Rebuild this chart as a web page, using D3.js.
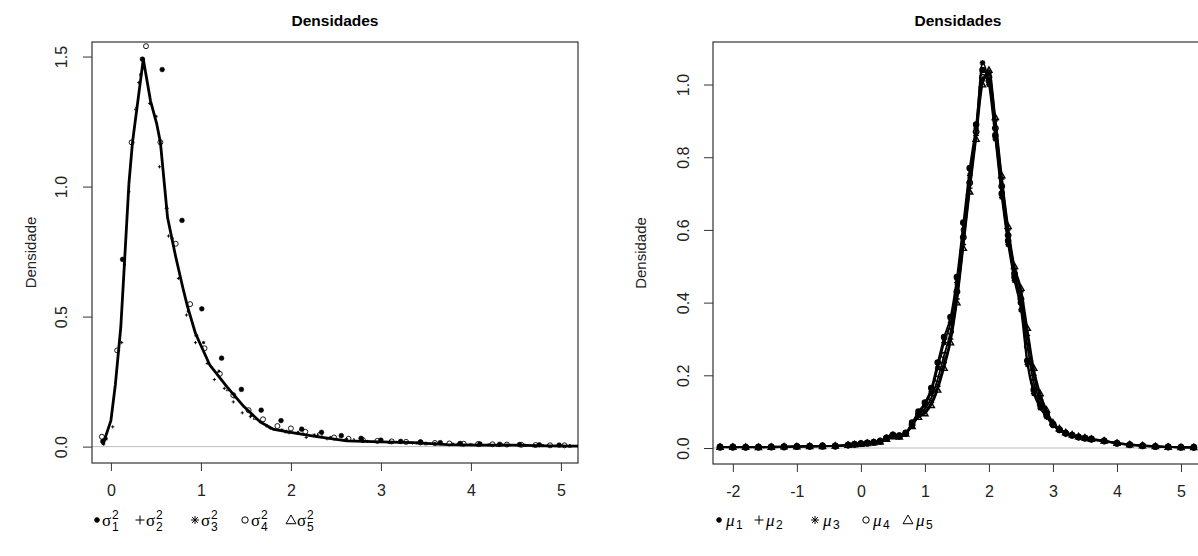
<!DOCTYPE html>
<html><head><meta charset="utf-8">
<script src="https://cdn.jsdelivr.net/npm/d3@7"></script>
<style>
body{margin:0;background:#fff;}
svg{display:block;font-family:Arial,"Liberation Sans",sans-serif;}
</style></head>
<body><svg id="c" width="1198" height="556"></svg>
<script>
// ---------- DATA: left panel (variances) ----------
const leftTitle = "Densidades";
const yLabel = "Densidade";
const leftXTicks = [0,1,2,3,4,5];
const leftYTicks = [0.0,0.5,1.0,1.5];
const leftLineX = [-0.09,0.0,0.05,0.11,0.14,0.2,0.24,0.36,0.44,0.51,0.55,0.63,0.72,0.80,0.85,0.94,1.1,1.29,1.48,1.66,1.81,2.03,2.25,2.62,3.0,3.36,3.74,4.1,4.48,4.85,5.19];
const leftLineY = [0.006,0.10,0.24,0.46,0.64,1.01,1.17,1.49,1.33,1.24,1.17,0.88,0.73,0.61,0.54,0.435,0.313,0.23,0.153,0.095,0.066,0.053,0.040,0.022,0.018,0.015,0.008,0.006,0.006,0.003,0.002];
const s1X = [-0.09,0.13,0.35,0.57,0.79,1.01,1.23,1.45,1.67,1.89,2.12,2.34,2.56,2.78,3.0,3.22,3.44,3.66,3.88,4.1,4.32,4.54,4.76,4.98];
const s1Y = [0.02,0.72,1.49,1.45,0.87,0.53,0.34,0.22,0.14,0.10,0.067,0.055,0.042,0.032,0.025,0.02,0.018,0.015,0.012,0.01,0.009,0.008,0.007,0.006];
const s2X = [-0.08,0.02,0.12,0.2,0.31,0.43,0.54,0.64,0.75,0.84,0.94,1.07,1.15,1.26,1.36,1.46,1.55,1.77,1.98,2.17,2.4,2.6,2.85,3.1,3.35,3.6,3.85,4.1,4.35,4.6,4.85,5.1];
const s2Y = [0.01,0.076,0.40,0.98,1.40,1.32,1.076,0.81,0.647,0.506,0.40,0.32,0.258,0.224,0.172,0.13,0.115,0.07,0.053,0.035,0.03,0.025,0.02,0.016,0.014,0.011,0.009,0.007,0.006,0.005,0.004,0.003];
const s3X = [-0.05,0.15,0.33,0.5,0.68,0.86,1.03,1.2,1.38,1.56,1.73,1.9,2.08,2.26,2.44,2.62,2.8,3.0,3.2,3.4,3.6,3.8,4.0,4.2,4.4,4.6,4.8,5.0];
const s3Y = [0.03,0.70,1.43,1.27,0.80,0.52,0.40,0.29,0.19,0.12,0.08,0.064,0.055,0.045,0.035,0.028,0.024,0.02,0.017,0.014,0.012,0.01,0.008,0.007,0.006,0.005,0.004,0.003];
const s4X = [-0.1,0.07,0.23,0.39,0.55,0.72,0.88,1.04,1.21,1.36,1.53,1.69,1.85,2.0,2.16,2.32,2.48,2.64,2.8,2.96,3.12,3.28,3.44,3.6,3.76,3.92,4.08,4.24,4.4,4.56,4.72,4.88,5.04];
const s4Y = [0.038,0.37,1.17,1.54,1.17,0.78,0.548,0.378,0.28,0.198,0.14,0.105,0.079,0.07,0.057,0.045,0.035,0.03,0.025,0.022,0.02,0.018,0.016,0.014,0.012,0.011,0.01,0.009,0.008,0.007,0.006,0.005,0.005];
const s5X = [0.28,0.62,0.95,1.3,1.6,1.95,2.3,2.7,3.1,3.5,3.9,4.3,4.7,5.1];
const s5Y = [1.3,0.92,0.43,0.22,0.11,0.058,0.042,0.025,0.017,0.012,0.008,0.006,0.004,0.003];

// ---------- DATA: right panel (means) ----------
const rightXTicks = [-2,-1,0,1,2,3,4,5];
const rightYTicks = [0.0,0.2,0.4,0.6,0.8,1.0];
const rightX = [-2.2,-2.0,-1.8,-1.6,-1.4,-1.2,-1.0,-0.8,-0.6,-0.4,-0.2,-0.1,0.0,0.1,0.2,0.3,0.4,0.5,0.6,0.7,0.8,0.9,1.0,1.1,1.2,1.3,1.4,1.5,1.6,1.7,1.8,1.9,2.0,2.1,2.2,2.3,2.4,2.5,2.6,2.7,2.8,2.9,3.0,3.1,3.2,3.3,3.4,3.5,3.6,3.8,4.0,4.2,4.4,4.6,4.8,5.0,5.2];
const mu1 = [0.003,0.003,0.002,0.002,0.003,0.004,0.004,0.005,0.004,0.006,0.008,0.010,0.012,0.014,0.015,0.018,0.028,0.036,0.034,0.042,0.070,0.100,0.125,0.165,0.235,0.305,0.360,0.470,0.620,0.770,0.890,1.040,1.010,0.860,0.700,0.570,0.470,0.400,0.240,0.160,0.120,0.090,0.065,0.050,0.040,0.035,0.030,0.028,0.025,0.020,0.013,0.009,0.006,0.004,0.003,0.002,0.002];
const mu2 = [0.002,0.003,0.003,0.002,0.002,0.003,0.004,0.004,0.005,0.005,0.007,0.009,0.011,0.013,0.016,0.020,0.030,0.038,0.030,0.038,0.062,0.088,0.100,0.125,0.170,0.235,0.300,0.410,0.560,0.715,0.860,1.010,1.030,0.900,0.740,0.600,0.490,0.430,0.310,0.200,0.140,0.100,0.068,0.052,0.042,0.036,0.031,0.027,0.024,0.019,0.014,0.010,0.007,0.005,0.003,0.002,0.002];
const mu3 = [0.003,0.002,0.003,0.003,0.002,0.003,0.005,0.004,0.005,0.006,0.009,0.011,0.013,0.015,0.017,0.019,0.026,0.033,0.032,0.040,0.066,0.095,0.118,0.155,0.220,0.290,0.345,0.455,0.600,0.750,0.880,1.060,1.000,0.850,0.690,0.560,0.460,0.380,0.230,0.150,0.110,0.085,0.062,0.048,0.039,0.034,0.029,0.026,0.023,0.018,0.012,0.008,0.006,0.004,0.003,0.002,0.001];
const mu4 = [0.002,0.002,0.002,0.003,0.003,0.003,0.004,0.005,0.006,0.005,0.008,0.010,0.012,0.013,0.016,0.019,0.027,0.034,0.033,0.040,0.064,0.092,0.108,0.138,0.190,0.255,0.320,0.430,0.580,0.730,0.870,1.020,1.020,0.880,0.720,0.585,0.480,0.410,0.280,0.180,0.130,0.095,0.066,0.051,0.041,0.035,0.030,0.027,0.024,0.019,0.013,0.009,0.006,0.004,0.003,0.002,0.002];
const mu5 = [0.003,0.003,0.003,0.002,0.003,0.004,0.004,0.005,0.005,0.006,0.008,0.010,0.011,0.013,0.015,0.017,0.025,0.032,0.031,0.039,0.060,0.085,0.095,0.118,0.160,0.220,0.290,0.400,0.550,0.705,0.850,1.000,1.040,0.910,0.750,0.610,0.500,0.440,0.330,0.220,0.150,0.105,0.070,0.054,0.043,0.037,0.032,0.028,0.025,0.020,0.014,0.010,0.007,0.005,0.003,0.002,0.002];

// ---------- drawing ----------
const svg = d3.select("#c");
const fmt1 = d3.format(".1f");

function markerPath(type, s){
  if(type==="dot") return d3.symbol(d3.symbolCircle, Math.PI*s*s)();
  if(type==="plus") return `M${-s},0H${s}M0,${-s}V${s}`;
  if(type==="star"){ const d=s*0.72; return `M${-s},0H${s}M0,${-s}V${s}M${-d},${-d}L${d},${d}M${-d},${d}L${d},${-d}`; }
  if(type==="circle") return d3.symbol(d3.symbolCircle, Math.PI*s*s)();
  if(type==="tri"){ const h=s*1.1; return `M0,${-h}L${h},${h*0.75}L${-h},${h*0.75}Z`; }
}
function drawMarkers(g, xs, ys, x, y, type, s, sw){
  const pts = xs.map((v,i)=>[v, ys[i]]);
  g.append("g").selectAll("path").data(pts).join("path")
    .attr("transform", d=>`translate(${x(d[0])},${y(d[1])})`)
    .attr("d", markerPath(type, s))
    .attr("fill", type==="dot" ? "#000" : "none")
    .attr("stroke", "#000").attr("stroke-width", sw);
}

function panel(opt){
  const {x, y, xTicks, yTicks, box, title, ylabX, ytickX} = opt;
  const g = svg.append("g");
  g.append("line").attr("x1", box.l).attr("x2", box.r).attr("y1", y(0)).attr("y2", y(0))
    .attr("stroke", "#bdbdbd").attr("stroke-width", 1);
  const xa = g.append("g").attr("transform", `translate(0,${box.b})`)
    .call(d3.axisBottom(x).tickValues(xTicks).tickSize(8).tickPadding(14).tickFormat(d=>String(d)));
  const ya = g.append("g").attr("transform", `translate(${box.l},0)`)
    .call(d3.axisLeft(y).tickValues(yTicks).tickSize(9).tickFormat(fmt1));
  [xa, ya].forEach(a=>{
    a.select(".domain").remove();
    a.selectAll("line").attr("stroke", "#333");
    a.selectAll("text").attr("font-size", 16).attr("fill", "#222")
      .attr("font-family", "Arial,'Liberation Sans',sans-serif");
  });
  ya.selectAll(".tick text").attr("text-anchor","middle").attr("x", null)
    .attr("transform", `translate(${ytickX - box.l},0) rotate(-90)`).attr("dy", "0.35em");
  g.append("rect").attr("x", box.l).attr("y", box.t).attr("width", box.r-box.l).attr("height", box.b-box.t)
    .attr("fill", "none").attr("stroke", "#333").attr("stroke-width", 1.2);
  g.append("text").attr("x", opt.titleX).attr("y", 26).attr("text-anchor","middle")
    .attr("font-weight","bold").attr("font-size", 15.5).attr("fill","#000").text(title);
  g.append("text").attr("transform", `translate(${ylabX},${(box.t+box.b)/2}) rotate(-90)`)
    .attr("text-anchor","middle").attr("font-size", 15).attr("fill","#222").text(yLabel);
  return g;
}

// ----- left panel -----
const lbox = {l:92, r:578, t:42, b:463};
const lx = d3.scaleLinear().domain([-0.21, 5.19]).range([lbox.l, lbox.r]);
const ly = d3.scaleLinear().domain([-0.063, 1.556]).range([lbox.b, lbox.t]);
const lg = panel({x:lx, y:ly, xTicks:leftXTicks, yTicks:leftYTicks, box:lbox, title:leftTitle, titleX:335, ylabX:36, ytickX:61});
const lineL = d3.line().x((d,i)=>lx(leftLineX[i])).y(d=>ly(d));
lg.append("path").datum(leftLineY).attr("d", lineL).attr("fill","none").attr("stroke","#000")
  .attr("stroke-width", 2.8).attr("stroke-linejoin","round");
drawMarkers(lg, s2X, s2Y, lx, ly, "plus", 1.6, 0.9);
drawMarkers(lg, s3X, s3Y, lx, ly, "star", 1.6, 0.9);
drawMarkers(lg, s5X, s5Y, lx, ly, "tri", 1.6, 0.8);
drawMarkers(lg, s4X, s4Y, lx, ly, "circle", 2.5, 0.9);
drawMarkers(lg, s1X, s1Y, lx, ly, "dot", 2.4, 0.5);

// ----- right panel -----
const rbox = {l:713, r:1206, t:42, b:464};
const rx = d3.scaleLinear().domain([-2.31, (1206-861)/64]).range([rbox.l, rbox.r]);
const ry = d3.scaleLinear().domain([-0.044, 1.117]).range([rbox.b, rbox.t]);
const rg = panel({x:rx, y:ry, xTicks:rightXTicks, yTicks:rightYTicks, box:rbox, title:leftTitle, titleX:958, ylabX:646, ytickX:683});
const muSeries = [[mu1,"dot"],[mu2,"plus"],[mu3,"star"],[mu4,"circle"],[mu5,"tri"]];
const lineR = d3.line().x((d,i)=>rx(rightX[i])).y(d=>ry(d)).curve(d3.curveMonotoneX);
muSeries.forEach(([arr])=>{
  rg.append("path").datum(arr).attr("d", lineR).attr("fill","none").attr("stroke","#000")
    .attr("stroke-width", 1.8).attr("stroke-linejoin","round");
});
muSeries.forEach(([arr,t])=>{
  drawMarkers(rg, rightX, arr, rx, ry, t, t==="dot"?2.6:2.8, 1.4);
});

// ----- legends -----
function legend(items, sym, symX, txtX, sup){
  const g = svg.append("g");
  const types = ["dot","plus","star","circle","tri"];
  const sizes = {dot:2.3, plus:4.5, star:4, circle:3.2, tri:4.5};
  items.forEach((lab,i)=>{
    g.append("path").attr("transform", `translate(${symX[i]},${520})`).attr("d", markerPath(types[i], sizes[types[i]]))
      .attr("fill", types[i]==="dot"?"#000":"none").attr("stroke","#000").attr("stroke-width", 1);
    g.append("text").attr("x", txtX[i]).attr("y", 526).attr("font-family","'Liberation Serif','DejaVu Serif',serif")
      .attr("font-style", sup ? "normal" : "italic").attr("font-size", 17).attr("fill","#000").text(sym);
    g.append("text").attr("x", txtX[i]+10).attr("y", sup ? 531 : 529).attr("font-size", 12)
      .attr("font-family","Arial,'Liberation Sans',sans-serif").attr("fill","#000").text(lab);
    if(sup) g.append("text").attr("x", txtX[i]+10).attr("y", 519).attr("font-size", 12)
      .attr("font-family","Arial,'Liberation Sans',sans-serif").attr("fill","#000").text("2");
  });
}
legend(["1","2","3","4","5"], "σ", [97,140,195,245,291], [102,146,201,251,297], true);
legend(["1","2","3","4","5"], "μ", [719,759,815,866,908], [726,766,823,873,916], false);
</script></body></html>
